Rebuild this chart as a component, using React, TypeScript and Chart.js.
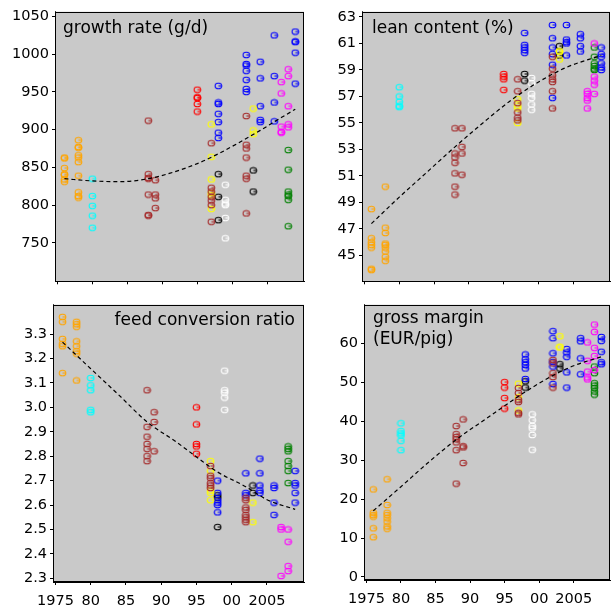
import React, { useEffect, useRef } from 'react';
import { Chart, registerables } from 'chart.js';

Chart.register(...registerables);
Chart.defaults.font.family = "'DejaVu Sans', Verdana, sans-serif";

const palette: Record<string, string> = {
  orange: '#FFA500',
  cyan: '#00FFFF',
  brown: '#A52A2A',
  red: '#FF0000',
  yellow: '#FFFF00',
  blue: '#0000FF',
  white: '#FFFFFF',
  black: '#000000',
  magenta: '#FF00FF',
  green: '#008000',
};

const xTickLabels = ['1975', '80', '85', '90', '95', '00', '2005'];
const xRange = [1974.65, 2010.25];

type Group = [string, number, number[]];

// ---- growth rate (g/d)
const growthTickLabels = ['750', '800', '850', '900', '950', '1000', '1050'];
const growthPoints: Group[] = [
  ['orange', 1976, [863, 862, 849, 841, 840, 834, 831]],
  ['orange', 1978, [886, 877, 876, 866, 863, 857, 839, 817, 812, 810]],
  ['cyan', 1980, [835, 812, 799, 786, 770]],
  ['brown', 1988, [912, 841, 836, 835, 814, 787, 786]],
  ['brown', 1989, [833, 814, 809, 796]],
  ['red', 1995, [953, 943, 942, 934, 924]],
  ['brown', 1997, [882, 823, 818, 811, 806, 800, 778]],
  ['yellow', 1997, [907, 864, 834, 816, 813, 795]],
  ['blue', 1998, [958, 936, 934, 921, 910, 896, 889]],
  ['black', 1998, [841, 811, 780]],
  ['white', 1999, [827, 807, 802, 800, 783, 756]],
  ['blue', 2002, [999, 987, 985, 978, 966, 954, 950]],
  ['brown', 2002, [918, 880, 875, 863, 839, 835, 789]],
  ['yellow', 2003, [928, 899, 894]],
  ['black', 2003, [846, 818]],
  ['blue', 2004, [990, 968, 931, 913, 910]],
  ['blue', 2006, [1025, 971, 936, 911]],
  ['magenta', 2007, [963, 948, 904, 897, 896]],
  ['magenta', 2008, [980, 971, 931, 907, 903]],
  ['green', 2008, [873, 847, 818, 814, 812, 807, 772]],
  ['blue', 2009, [1030, 1017, 1016, 1002, 961]],
];
const growthTrendX = [1976, 1980, 1984, 1988, 1991, 1995, 1998, 2001, 2004, 2007, 2009];
const growthTrendY = [835, 832, 831, 835, 842, 855, 868, 883, 899, 916, 927];

// ---- lean content (%)
const leanTickLabels = ['45', '47', '49', '51', '53', '55', '57', '59', '61', '63'];
const leanPoints: Group[] = [
  ['orange', 1976, [48.5, 46.3, 46.0, 45.8, 45.6, 44.0, 43.9]],
  ['orange', 1978, [50.2, 47.1, 46.7, 45.9, 45.8, 45.6, 45.3, 44.9, 44.6]],
  ['cyan', 1980, [57.7, 57.0, 56.6, 56.3, 56.2]],
  ['brown', 1988, [54.6, 52.7, 52.4, 52.0, 51.2, 50.2, 49.6]],
  ['brown', 1989, [54.6, 53.2, 52.7, 51.1]],
  ['red', 1995, [58.7, 58.5, 58.3, 57.5]],
  ['brown', 1997, [58.3, 57.4, 56.5, 55.8, 55.4, 55.2]],
  ['yellow', 1997, [56.8, 56.3, 56.1, 55.0]],
  ['black', 1998, [58.7, 58.2]],
  ['blue', 1998, [61.8, 60.9, 60.7, 60.5, 60.3]],
  ['white', 1999, [58.4, 58.0, 57.2, 56.9, 56.4, 56.0]],
  ['blue', 2002, [62.4, 61.4, 60.7, 60.2, 59.4, 56.9]],
  ['brown', 2002, [60.0, 59.1, 58.6, 58.3, 58.1, 57.4, 56.1]],
  ['black', 2003, [60.8, 60.1]],
  ['yellow', 2003, [60.4, 60.4, 59.8]],
  ['blue', 2004, [62.4, 61.3, 61.1, 61.0, 60.1]],
  ['blue', 2006, [61.7, 61.4, 60.8, 60.4]],
  ['magenta', 2007, [57.4, 57.2, 56.9, 56.7, 56.1]],
  ['magenta', 2008, [61.0, 58.5, 58.2, 57.9, 57.2]],
  ['green', 2008, [60.7, 60.0, 59.5, 59.3, 59.1, 59.0]],
  ['blue', 2009, [60.7, 60.2, 60.0, 59.5, 59.2, 59.0]],
];
const leanTrendX = [1976, 1980, 1984, 1988, 1992, 1996, 2000, 2004, 2009];
const leanTrendY = [47.4, 49.4, 51.3, 53.2, 55.0, 56.7, 58.1, 59.2, 60.1];

// ---- feed conversion ratio
const fcrTickLabels = ['2.3', '2.4', '2.5', '2.6', '2.7', '2.8', '2.9', '3.0', '3.1', '3.2', '3.3'];
const fcrPoints: Group[] = [
  ['orange', 1976, [3.37, 3.35, 3.28, 3.26, 3.25, 3.14]],
  ['orange', 1978, [3.35, 3.34, 3.33, 3.27, 3.25, 3.23, 3.22, 3.11]],
  ['cyan', 1980, [3.12, 3.09, 3.07, 2.99, 2.98]],
  ['brown', 1988, [3.07, 2.92, 2.88, 2.85, 2.83, 2.8, 2.78]],
  ['brown', 1989, [2.98, 2.94, 2.82]],
  ['red', 1995, [3.0, 2.93, 2.85, 2.84, 2.81]],
  ['yellow', 1997, [2.78, 2.74, 2.66, 2.65, 2.62]],
  ['brown', 1997, [2.76, 2.72, 2.71, 2.69, 2.68, 2.67]],
  ['blue', 1998, [2.7, 2.65, 2.62, 2.61, 2.6, 2.57]],
  ['black', 1998, [2.64, 2.63, 2.51]],
  ['white', 1999, [3.15, 3.07, 3.06, 3.04, 2.99]],
  ['blue', 2002, [2.73, 2.65, 2.64]],
  ['brown', 2002, [2.63, 2.62, 2.59, 2.58, 2.56, 2.55, 2.54, 2.53]],
  ['black', 2003, [2.68, 2.65]],
  ['yellow', 2003, [2.61, 2.53]],
  ['blue', 2004, [2.79, 2.73, 2.68, 2.66, 2.65]],
  ['blue', 2006, [2.68, 2.67, 2.61, 2.56]],
  ['magenta', 2007, [2.51, 2.5, 2.31]],
  ['magenta', 2008, [2.5, 2.45, 2.35, 2.33]],
  ['green', 2008, [2.84, 2.83, 2.82, 2.78, 2.76, 2.74, 2.69]],
  ['blue', 2009, [2.74, 2.69, 2.68, 2.65, 2.61]],
];
const fcrTrendX = [1976, 1980, 1984, 1988, 1992, 1995, 1998, 2002, 2005, 2009];
const fcrTrendY = [3.267, 3.158, 3.05, 2.94, 2.861, 2.797, 2.735, 2.675, 2.622, 2.582];

// ---- gross margin (EUR/pig)
const marginTickLabels = ['0', '10', '20', '30', '40', '50', '60'];
const marginPoints: Group[] = [
  ['orange', 1976, [22.5, 16.5, 15.9, 15.5, 12.5, 10.2]],
  ['orange', 1978, [25.1, 18.5, 16.5, 15.9, 15.1, 14.2, 13.0, 12.4]],
  ['cyan', 1980, [39.5, 37.5, 36.9, 36.4, 35.0, 32.6]],
  ['brown', 1988, [38.8, 36.7, 36.0, 35.4, 34.6, 32.6, 24.0]],
  ['brown', 1989, [40.5, 33.6, 33.3, 29.3]],
  ['red', 1995, [50.1, 48.7, 46.0, 43.3]],
  ['yellow', 1997, [49.7, 46.2, 42.8]],
  ['brown', 1997, [48.6, 47.3, 45.6, 45.0, 42.2, 41.8]],
  ['blue', 1998, [57.2, 56.0, 55.2, 54.5, 53.6, 50.9]],
  ['black', 1998, [50.3, 48.7]],
  ['white', 1999, [41.8, 40.3, 38.8, 38.2, 36.5, 32.7]],
  ['blue', 2002, [63.2, 61.4, 57.5, 55.3, 54.1, 49.6]],
  ['brown', 2002, [55.8, 54.9, 52.4, 51.4, 48.7]],
  ['yellow', 2003, [61.9, 59.2, 59.0]],
  ['black', 2003, [54.7, 53.6]],
  ['blue', 2004, [58.6, 57.7, 56.6, 52.6, 48.7]],
  ['blue', 2006, [61.4, 60.6, 56.2, 52.1]],
  ['magenta', 2007, [60.3, 55.6, 52.8, 51.3, 50.8]],
  ['magenta', 2008, [64.9, 63.0, 58.9, 56.8, 53.2]],
  ['green', 2008, [54.1, 52.4, 49.8, 49.2, 48.6, 47.7, 46.9]],
  ['blue', 2009, [61.7, 60.7, 57.9, 55.2, 54.7]],
];
const marginTrendX = [1976, 1980, 1984, 1988, 1992, 1995, 1998, 2002, 2005, 2009];
const marginTrendY = [17.0, 23.2, 29.5, 35.3, 40.3, 44.0, 47.6, 51.8, 54.3, 56.6];

const markerCache: Record<string, HTMLCanvasElement> = {};
function makeMarker(color: string): HTMLCanvasElement {
  if (markerCache[color]) return markerCache[color];
  const c = document.createElement('canvas');
  c.width = 9;
  c.height = 8;
  const ctx = c.getContext('2d')!;
  ctx.strokeStyle = color;
  ctx.lineWidth = 1.1;
  ctx.beginPath();
  ctx.ellipse(4.5, 4, 3.3, 2.8, 0, 0, Math.PI * 2);
  ctx.stroke();
  ctx.beginPath();
  ctx.moveTo(4.5, 4);
  ctx.lineTo(7.8, 4);
  ctx.stroke();
  markerCache[color] = c;
  return c;
}

function buildDatasets(points: Group[], tx: number[], ty: number[]) {
  const byColor = new Map<string, { x: number; y: number }[]>();
  for (const [c, yr, vals] of points) {
    if (!byColor.has(c)) byColor.set(c, []);
    for (const v of vals) byColor.get(c)!.push({ x: yr, y: v });
  }
  const ds: any[] = [
    {
      label: 'trend',
      data: tx.map((x, i) => ({ x, y: ty[i] })),
      showLine: true,
      borderColor: '#000',
      borderWidth: 1.2,
      borderDash: [4, 3],
      pointRadius: 0,
      cubicInterpolationMode: 'monotone',
      order: 0,
    },
  ];
  byColor.forEach((data, c) => {
    ds.push({
      label: c,
      data,
      pointStyle: makeMarker(palette[c]),
      pointRadius: 4,
      showLine: false,
      order: 1,
    });
  });
  return ds;
}

const panelPlugin = {
  id: 'panelDeco',
  beforeDatasetsDraw(chart: any) {
    const { ctx, chartArea: a } = chart;
    ctx.save();
    ctx.fillStyle = '#c9c9c9';
    ctx.fillRect(a.left, a.top, a.right - a.left, a.bottom - a.top);
    ctx.restore();
  },
  afterDraw(chart: any, _args: any, opts: any) {
    const { ctx, chartArea: a } = chart;
    ctx.save();
    ctx.strokeStyle = '#000';
    ctx.lineWidth = 1;
    ctx.strokeRect(Math.round(a.left) + 0.5, Math.round(a.top) + 0.5, Math.round(a.right - a.left) - 1, Math.round(a.bottom - a.top) - 1);
    ctx.fillStyle = '#000';
    ctx.font = "17px 'DejaVu Sans', Verdana, sans-serif";
    ctx.textBaseline = 'alphabetic';
    const lines: string[] = opts.lines || [];
    ctx.textAlign = opts.align === 'right' ? 'right' : 'left';
    const x = opts.align === 'right' ? a.right - opts.dx : a.left + opts.dx;
    lines.forEach((t, i) => ctx.fillText(t, x, a.top + opts.dy + i * 21));
    ctx.restore();
  },
};

interface PanelProps {
  left: number;
  top: number;
  width: number;
  height: number;
  yAxisW: number;
  xAxisH: number;
  padTop: number;
  padRight: number;
  yMin: number;
  yMax: number;
  minorStep: number;
  tickLabels: string[];
  points: Group[];
  tx: number[];
  ty: number[];
  showX: boolean;
  title: string[];
  titleAlign: string;
  titleDx: number;
  titleDy: number;
}

function Panel(p: PanelProps) {
  const ref = useRef<HTMLCanvasElement>(null);
  useEffect(() => {
    const majors = p.tickLabels.map(Number);
    const yVals: number[] = [];
    const start = Math.ceil(p.yMin / p.minorStep - 1e-9);
    for (let k = start; k * p.minorStep <= p.yMax + 1e-9; k++) yVals.push(+(k * p.minorStep).toFixed(6));
    const xVals: number[] = [];
    for (let k = 0; k <= 49; k++) xVals.push(1975 + (k * 5) / 7);
    const chart = new Chart(ref.current!, {
      type: 'scatter',
      data: { datasets: buildDatasets(p.points, p.tx, p.ty) },
      options: {
        animation: false,
        responsive: false,
        events: [],
        layout: { padding: { top: p.padTop, right: p.padRight, left: 0, bottom: 0 } },
        plugins: {
          legend: { display: false },
          tooltip: { enabled: false },
          panelDeco: { lines: p.title, align: p.titleAlign, dx: p.titleDx, dy: p.titleDy },
        } as any,
        scales: {
          x: {
            type: 'linear',
            min: xRange[0],
            max: xRange[1],
            afterBuildTicks: (s: any) => {
              s.ticks = xVals.map((v) => ({ value: v }));
            },
            afterFit: (s: any) => {
              s.height = p.xAxisH;
            },
            grid: { drawOnChartArea: false, drawTicks: true, tickLength: 3, color: '#000', tickColor: '#000' },
            border: { display: true, color: '#000' },
            ticks: {
              display: p.showX,
              autoSkip: false,
              maxRotation: 0,
              minRotation: 0,
              padding: 8,
              color: '#000',
              font: { size: 14.5 },
              callback: (v: any) => {
                const k = Math.round(((v - 1975) * 7) / 5);
                if (k % 7 !== 0) return null;
                const j = k / 7;
                return j < xTickLabels.length ? xTickLabels[j] : null;
              },
            },
          },
          y: {
            type: 'linear',
            min: p.yMin,
            max: p.yMax,
            afterBuildTicks: (s: any) => {
              s.ticks = yVals.map((v) => ({ value: v }));
            },
            afterFit: (s: any) => {
              s.width = p.yAxisW;
            },
            grid: { drawOnChartArea: false, drawTicks: true, tickLength: 3, color: '#000', tickColor: '#000' },
            border: { display: true, color: '#000' },
            ticks: {
              autoSkip: false,
              padding: 3,
              color: '#000',
              font: { size: 14.5 },
              callback: (v: any) => {
                const i = majors.findIndex((m) => Math.abs(m - v) < 1e-6);
                return i >= 0 ? p.tickLabels[i] : null;
              },
            },
          },
        },
      },
      plugins: [panelPlugin],
    } as any);
    return () => chart.destroy();
  }, []);
  return (
    <canvas
      ref={ref}
      width={p.width}
      height={p.height}
      style={{ position: 'absolute', left: p.left, top: p.top, width: p.width, height: p.height }}
    />
  );
}

export default function App() {
  return (
    <div style={{ position: 'absolute', left: 0, top: 0, width: 615, height: 611, overflow: 'hidden', background: '#fff' }}>
      <Panel
        left={0} top={0} width={310} height={293} yAxisW={55} xAxisH={6} padTop={5} padRight={6}
        yMin={699} yMax={1056.3} minorStep={10} tickLabels={growthTickLabels}
        points={growthPoints} tx={growthTrendX} ty={growthTrendY} showX={false}
        title={['growth rate (g/d)']} titleAlign="left" titleDx={8} titleDy={21}
      />
      <Panel
        left={310} top={0} width={305} height={293} yAxisW={52} xAxisH={6} padTop={5} padRight={3}
        yMin={43.05} yMax={63.4} minorStep={0.5} tickLabels={leanTickLabels}
        points={leanPoints} tx={leanTrendX} ty={leanTrendY} showX={false}
        title={['lean content (%)']} titleAlign="left" titleDx={10} titleDy={21}
      />
      <Panel
        left={0} top={293} width={310} height={314} yAxisW={53} xAxisH={25} padTop={5} padRight={6}
        yMin={2.285} yMax={3.42} minorStep={0.05} tickLabels={fcrTickLabels}
        points={fcrPoints} tx={fcrTrendX} ty={fcrTrendY} showX={true}
        title={['feed conversion ratio']} titleAlign="right" titleDx={9} titleDy={20}
      />
      <Panel
        left={310} top={293} width={305} height={312} yAxisW={54} xAxisH={25} padTop={5} padRight={3}
        yMin={-0.8} yMax={70} minorStep={2} tickLabels={marginTickLabels}
        points={marginPoints} tx={marginTrendX} ty={marginTrendY} showX={true}
        title={['gross margin', '(EUR/pig)']} titleAlign="left" titleDx={9} titleDy={18}
      />
    </div>
  );
}
